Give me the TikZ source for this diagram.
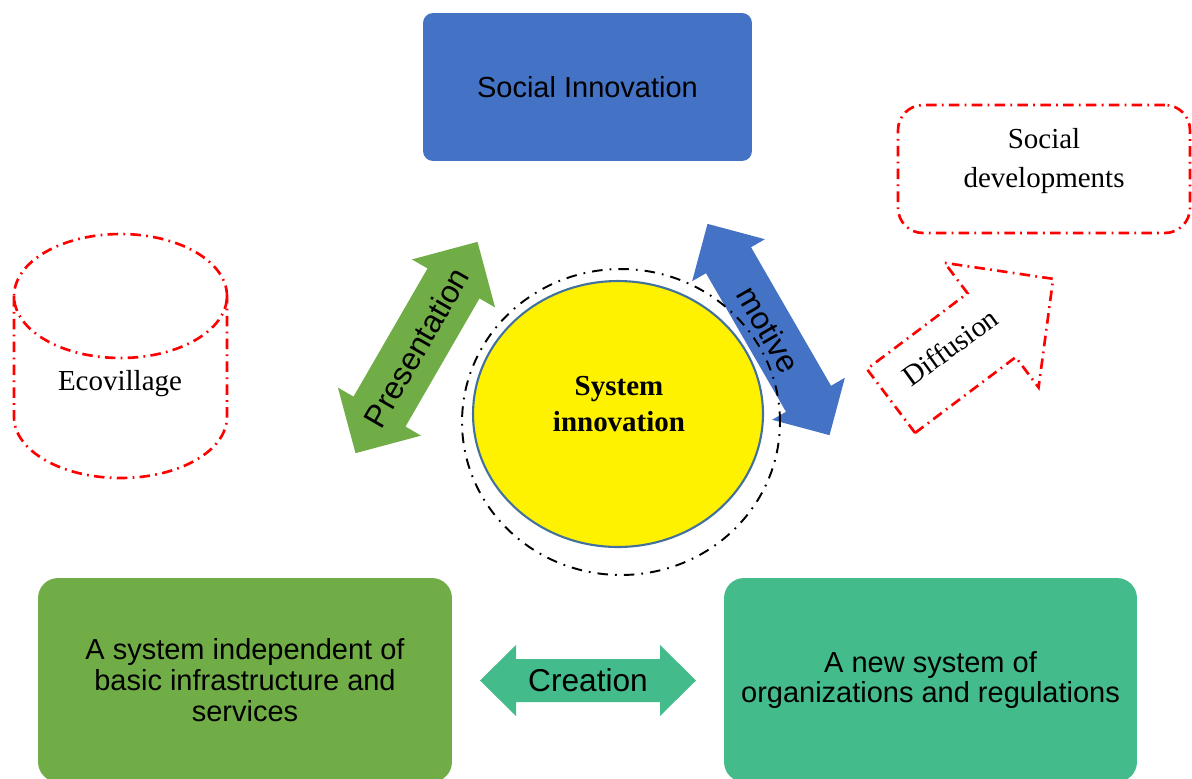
\documentclass[tikz,border=0pt]{standalone}
\usepackage{fontspec}
\setmainfont{Liberation Sans}
\newfontfamily\timesfont{Liberation Serif}
\usetikzlibrary{shapes.geometric}

\definecolor{siblue}{HTML}{4472C4}
\definecolor{sigreen}{HTML}{70AD47}
\definecolor{siteal}{HTML}{44BB8B}
\definecolor{ringblue}{HTML}{41719C}

\tikzset{
  dashdot/.style={dash pattern=on 6pt off 3pt on 1pt off 3pt},
  reddash/.style={draw=red, line width=1.5pt, dashdot},
  filledbox/.style={rectangle, draw=none, align=center, font=\fontsize{16.5}{17.5}\selectfont},
  arrowlabel/.style={font=\fontsize{18}{20}\selectfont},
  serif/.style={align=center, font=\timesfont\fontsize{16.5}{22}\selectfont},
}

\begin{document}
\begin{tikzpicture}[x=0.02cm, y=-0.02cm]
  \useasboundingbox (0,0) rectangle (1192,778);
  \clip (0,0) rectangle (1192,778);

  % boxes
  \node[filledbox, fill=siblue, minimum width=6.58cm, minimum height=2.96cm, rounded corners=0.2cm] (social) at (587.5,87) {Social Innovation};
  \node[filledbox, fill=sigreen, minimum width=8.28cm, minimum height=4.08cm, rounded corners=0.4cm] (independent) at (245,680) {A system independent of\\basic infrastructure and\\services};
  \node[filledbox, fill=siteal, minimum width=8.26cm, minimum height=4.08cm, rounded corners=0.4cm] (newsystem) at (930.5,680) {A new system of\\organizations and regulations};

  % double arrows
  \begin{scope}[shift={(416.5,347.5)}, rotate=60]
    \fill[sigreen] (-122,0) -- (-74,-48) -- (-74,-30) -- (74,-30) -- (74,-48) -- (122,0) -- (74,48) -- (74,30) -- (-74,30) -- (-74,48) -- cycle;
  \end{scope}
  \node[arrowlabel, rotate=60] (present) at (416.5,347.5) {Presentation};
  \begin{scope}[shift={(768.5,329.5)}, rotate=-60]
    \fill[siblue] (-122,0) -- (-80,-42) -- (-80,-26) -- (80,-26) -- (80,-42) -- (122,0) -- (80,42) -- (80,26) -- (-80,26) -- (-80,42) -- cycle;
  \end{scope}
  \node[arrowlabel, rotate=-60] (motive) at (768.5,329.5) {motive};
  \begin{scope}[shift={(588,680.5)}]
    \fill[siteal] (-108,0) -- (-72,-35.5) -- (-72,-21.5) -- (72,-21.5) -- (72,-35.5) -- (108,0) -- (72,35.5) -- (72,21.5) -- (-72,21.5) -- (-72,35.5) -- cycle;
  \end{scope}
  \node[arrowlabel] (creation) at (588,680) {Creation};

  % centre
  \node[ellipse, draw, line width=1.1pt, dash pattern=on 6pt off 4pt on 1pt off 4pt, minimum width=6.36cm, minimum height=6.12cm] (ring) at (621,422) {};
  \node[ellipse, draw=ringblue, line width=1.2pt, fill=yellow, minimum width=5.8cm, minimum height=5.32cm] (system) at (618,414) {};
  \node[serif, font=\timesfont\bfseries\fontsize{16.5}{20.5}\selectfont] (systext) at (619,404) {System\\innovation};

  % diffusion
  \begin{scope}[shift={(891,401)}, rotate=37]
    \draw[reddash] (0,40) -- (126,40) -- (126,78) -- (203,0) -- (126,-78) -- (126,-40) -- (0,-40) -- cycle;
  \end{scope}
  \node[serif, rotate=36] (diffusion) at (950,347) {Diffusion};
  \node[reddash, rectangle, minimum width=5.84cm, minimum height=2.56cm, rounded corners=0.5cm] (devbox) at (1044,169) {};
  \node[serif] (devtext) at (1044,161) {Social\\developments};

  % ecovillage
  \draw[reddash] (120.5,296) ellipse [x radius=2.13cm, y radius=1.24cm];
  \draw[reddash] (14,296) -- (14,417) arc[start angle=180, end angle=360, x radius=2.13cm, y radius=1.22cm] -- (227,296);
  \node[serif] (eco) at (120,384) {Ecovillage};
\end{tikzpicture}
\end{document}
